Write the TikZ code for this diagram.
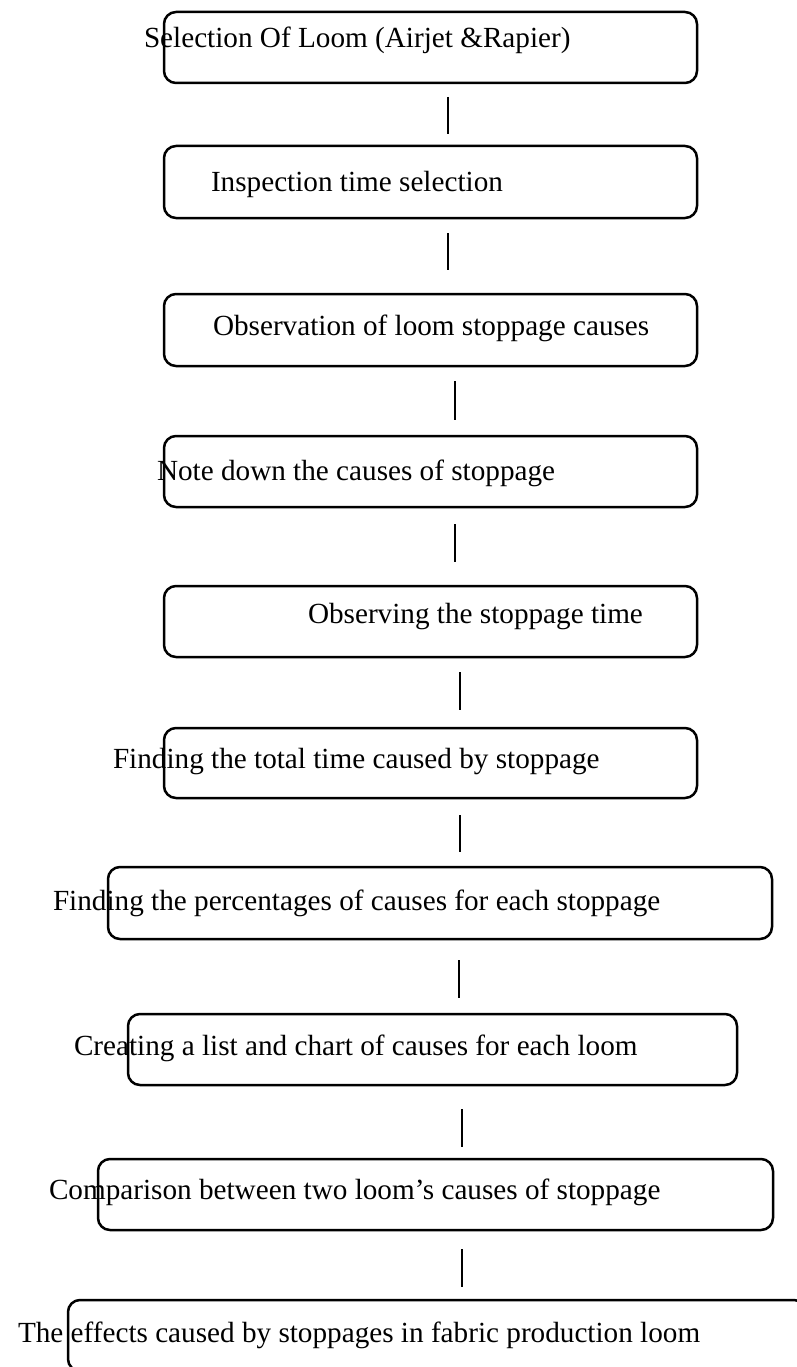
\documentclass[tikz,border=0pt]{standalone}
\usepackage{fontspec}
\setmainfont{Liberation Serif}
\tikzset{
  stepbox/.style={draw=black, line width=2.5pt, rounded corners=12pt, inner sep=0pt, outer sep=0pt, anchor=north west},
  lbl/.style={anchor=base west, inner sep=0pt, outer sep=0pt, text=black, font=\fontsize{29.2}{35}\selectfont},
  conn/.style={draw=black, line width=2.5pt}
}
\begin{document}
\begin{tikzpicture}[x=1pt, y=-1pt]
\clip (0,0) rectangle (797,1367);
\useasboundingbox (0,0) rectangle (797,1367);
% boxes
\node[stepbox, minimum width=533pt, minimum height=71pt] (b1) at (164,12) {};
\node[stepbox, minimum width=533pt, minimum height=72pt] (b2) at (164,146) {};
\node[stepbox, minimum width=533pt, minimum height=72pt] (b3) at (164,294) {};
\node[stepbox, minimum width=533pt, minimum height=71pt] (b4) at (164,436) {};
\node[stepbox, minimum width=533pt, minimum height=71pt] (b5) at (164,586) {};
\node[stepbox, minimum width=533pt, minimum height=70pt] (b6) at (164,728) {};
\node[stepbox, minimum width=664pt, minimum height=72pt] (b7) at (108,867) {};
\node[stepbox, minimum width=609pt, minimum height=71pt] (b8) at (128,1014) {};
\node[stepbox, minimum width=675pt, minimum height=71pt] (b9) at (98,1159) {};
\node[stepbox, minimum width=738pt, minimum height=71pt] (b10) at (68,1300) {};
% labels
\node[lbl] (t1) at (144,48) {Selection Of Loom (Airjet \&Rapier)};
\node[lbl] (t2) at (211,192) {Inspection time selection};
\node[lbl] (t3) at (213,335) {Observation of loom stoppage causes};
\node[lbl] (t4) at (157,480) {Note down the causes of stoppage};
\node[lbl] (t5) at (308,623) {Observing the stoppage time};
\node[lbl] (t6) at (113,768) {Finding the total time caused by stoppage};
\node[lbl] (t7) at (53,910) {Finding the percentages of causes for each stoppage};
\node[lbl] (t8) at (74,1055) {Creating a list and chart of causes for each loom};
\node[lbl] (t9) at (49,1199) {Comparison between two loom’s causes of stoppage};
\node[lbl] (t10) at (18,1342) {The effects caused by stoppages in fabric production loom};
% connector x positions
\coordinate (x1) at (448,0);
\coordinate (x2) at (448,0);
\coordinate (x3) at (455,0);
\coordinate (x4) at (455,0);
\coordinate (x5) at (460,0);
\coordinate (x6) at (460,0);
\coordinate (x7) at (459,0);
\coordinate (x8) at (462,0);
\coordinate (x9) at (462,0);
% connectors
\draw[conn, shorten <=14pt, shorten >=12pt] (x1 |- b1.south) -- (x1 |- b2.north);
\draw[conn, shorten <=15pt, shorten >=24pt] (x2 |- b2.south) -- (x2 |- b3.north);
\draw[conn, shorten <=15pt, shorten >=16pt] (x3 |- b3.south) -- (x3 |- b4.north);
\draw[conn, shorten <=17pt, shorten >=24pt] (x4 |- b4.south) -- (x4 |- b5.north);
\draw[conn, shorten <=15pt, shorten >=18pt] (x5 |- b5.south) -- (x5 |- b6.north);
\draw[conn, shorten <=17pt, shorten >=15pt] (x6 |- b6.south) -- (x6 |- b7.north);
\draw[conn, shorten <=21pt, shorten >=16pt] (x7 |- b7.south) -- (x7 |- b8.north);
\draw[conn, shorten <=24pt, shorten >=12pt] (x8 |- b8.south) -- (x8 |- b9.north);
\draw[conn, shorten <=19pt, shorten >=13pt] (x9 |- b9.south) -- (x9 |- b10.north);
\end{tikzpicture}
\end{document}
